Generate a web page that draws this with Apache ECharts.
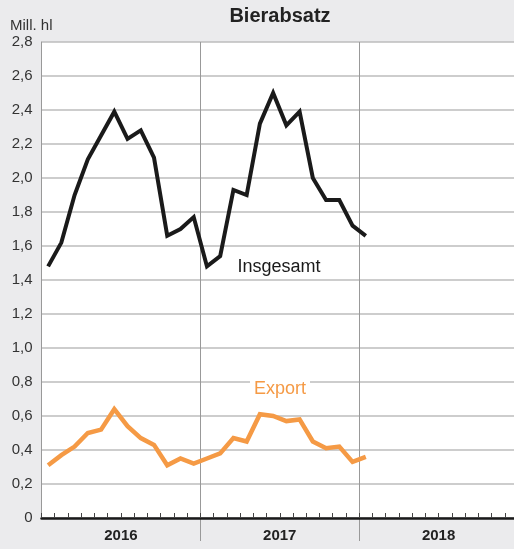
<!DOCTYPE html>
<html>
<head>
<meta charset="utf-8">
<script src="https://cdn.jsdelivr.net/npm/echarts@6/dist/echarts.min.js"></script>
<style>
  html, body { margin: 0; padding: 0; background: #ebebed; }
  #chart { width: 514px; height: 549px; }
</style>
</head>
<body>
<div id="chart"></div>
<script>
// Monthly beer sales in million hectolitres, Jan 2016 – Jan 2018
const years = ['2016', '2017', '2018'];
const monthNames = ['Jan', 'Feb', 'Mär', 'Apr', 'Mai', 'Jun', 'Jul', 'Aug', 'Sep', 'Okt', 'Nov', 'Dez'];
const months = [];
years.forEach(y => monthNames.forEach(m => months.push(m + ' ' + y)));

const insgesamt = [
  1.48, 1.62, 1.90, 2.11, 2.25, 2.39, 2.23, 2.28, 2.12, 1.66, 1.70, 1.77,
  1.48, 1.54, 1.93, 1.90, 2.32, 2.50, 2.31, 2.39, 2.00, 1.87, 1.87, 1.72,
  1.66
];
const exportVals = [
  0.31, 0.37, 0.42, 0.50, 0.52, 0.64, 0.54, 0.47, 0.43, 0.31, 0.35, 0.32,
  0.35, 0.38, 0.47, 0.45, 0.61, 0.60, 0.57, 0.58, 0.45, 0.41, 0.42, 0.33,
  0.36
];
const yTicks = { min: 0, max: 2.8, step: 0.2 };

const FONT = '"Liberation Sans", Arial, Helvetica, sans-serif';
// plot area runs slightly past the right edge of the canvas
const gridBox = { left: 41.5, width: 476.5, top: 42, bottom: 31, outerBoundsMode: 'none', containLabel: false };

const chart = echarts.init(document.getElementById('chart'), null, { renderer: 'canvas' });

chart.setOption({
  backgroundColor: '#ebebed',
  animation: false,
  grid: [
    Object.assign({ show: true, backgroundColor: '#ffffff', borderWidth: 0 }, gridBox),
    Object.assign({ show: false }, gridBox)
  ],
  xAxis: [
    {
      type: 'category', gridIndex: 0, data: months, boundaryGap: true,
      axisLine: { show: true, lineStyle: { color: '#1a1a1a', width: 2.5 } },
      axisTick: { show: true, inside: true, length: 5, interval: 0, lineStyle: { color: '#444', width: 1 } },
      axisLabel: { show: false },
      splitLine: { show: false },
      z: 3
    },
    {
      type: 'category', gridIndex: 1, data: years, boundaryGap: true, position: 'bottom',
      axisLine: { show: false },
      axisTick: { show: true, inside: false, length: 23, interval: (i) => i > 0, lineStyle: { color: '#999', width: 1 } },
      axisLabel: { show: true, margin: 10, color: '#222', fontFamily: FONT, fontSize: 15, fontWeight: 'bold' },
      splitLine: { show: true, interval: 0, lineStyle: { color: '#999', width: 1 } }
    }
  ],
  yAxis: [
    {
      type: 'value', gridIndex: 0, min: yTicks.min, max: yTicks.max, interval: yTicks.step,
      axisLine: { show: true, lineStyle: { color: '#999', width: 1 } },
      axisTick: { show: false },
      axisLabel: {
        margin: 9, color: '#333', fontFamily: FONT, fontSize: 15,
        formatter: v => v === 0 ? '0' : v.toFixed(1).replace('.', ',')
      },
      splitLine: { show: true, lineStyle: { color: '#bdbdbd', width: 1.5 } }
    },
    {
      type: 'value', gridIndex: 1, min: yTicks.min, max: yTicks.max, interval: yTicks.step,
      show: false
    }
  ],
  series: [
    {
      name: 'Insgesamt', type: 'line', xAxisIndex: 0, yAxisIndex: 0,
      data: insgesamt, showSymbol: false, symbol: 'none',
      lineStyle: { color: '#1a1a1a', width: 4, join: 'miter' }, z: 5
    },
    {
      name: 'Export', type: 'line', xAxisIndex: 0, yAxisIndex: 0,
      data: exportVals, showSymbol: false, symbol: 'none',
      lineStyle: { color: '#f59a45', width: 4.5, join: 'miter' }, z: 5
    }
  ],
  graphic: [
    {
      type: 'text', left: 10, top: 18, z: 10,
      style: { text: 'Mill. hl', fill: '#333', font: '15px ' + FONT }
    },
    {
      type: 'text', x: 280, y: 16, z: 10,
      style: { text: 'Bierabsatz', fill: '#222', font: 'bold 20px ' + FONT, align: 'center', verticalAlign: 'middle' }
    },
    {
      type: 'text', x: 279, y: 267, z: 10,
      style: { text: 'Insgesamt', fill: '#1a1a1a', font: '18px ' + FONT, align: 'center', verticalAlign: 'middle' }
    },
    {
      type: 'text', x: 280, y: 389, z: 10,
      style: {
        text: 'Export', fill: '#f59a45', font: '18px ' + FONT, align: 'center', verticalAlign: 'middle',
        backgroundColor: '#ffffff', padding: [0, 4, 0, 4]
      }
    }
  ]
});
</script>
</body>
</html>
